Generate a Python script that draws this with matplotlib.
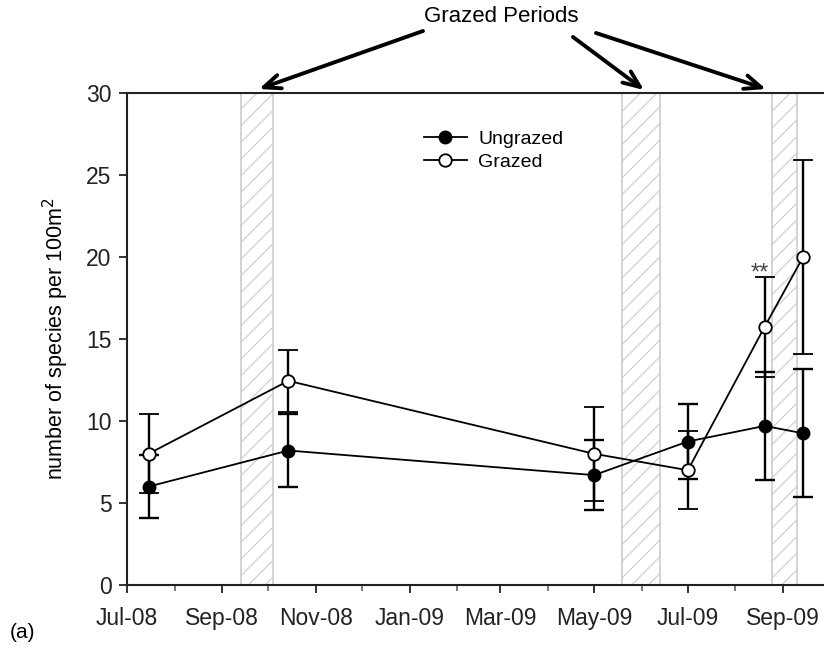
import datetime as dt
import matplotlib
matplotlib.use("Agg")
import matplotlib.pyplot as plt
import matplotlib.dates as mdates
from matplotlib.patches import Rectangle
from matplotlib.lines import Line2D

plt.rcParams['font.family'] = ['Liberation Sans', 'DejaVu Sans']
plt.rcParams['hatch.color'] = '#cccccc'
plt.rcParams['hatch.linewidth'] = 0.8

# sampling dates and species counts
dates = [dt.date(2008, 7, 15), dt.date(2008, 10, 14), dt.date(2009, 5, 1),
         dt.date(2009, 7, 1), dt.date(2009, 8, 20), dt.date(2009, 9, 14)]
ungrazed = [6.0, 8.2, 6.7, 8.75, 9.7, 9.25]
ungrazed_err = [1.9, 2.25, 2.15, 2.3, 3.3, 3.9]
grazed = [8.0, 12.45, 8.0, 7.0, 15.75, 20.0]
grazed_err = [2.4, 1.9, 2.85, 2.38, 3.05, 5.9]

# grazing periods (start, end)
graze_periods = [(dt.date(2008, 9, 13), dt.date(2008, 10, 4)),
                 (dt.date(2009, 5, 19), dt.date(2009, 6, 13)),
                 (dt.date(2009, 8, 25), dt.date(2009, 9, 10))]

fig = plt.figure(figsize=(8.24, 6.53), dpi=100)
ax = fig.add_axes([127 / 824, 1 - 585 / 653, 1 - 127 / 824, (585 - 93) / 653])

for start, end in graze_periods:
    x0 = mdates.date2num(start)
    x1 = mdates.date2num(end)
    ax.add_patch(Rectangle((x0, 0), x1 - x0, 30, facecolor='white',
                           edgecolor='#cccccc', hatch='//', linewidth=1.2, zorder=1))

ax.errorbar(dates, ungrazed, yerr=ungrazed_err, color='black', marker='o',
            markersize=9, markerfacecolor='black', linewidth=1.3, elinewidth=1.7,
            capsize=7, capthick=1.7, zorder=3)
ax.errorbar(dates, grazed, yerr=grazed_err, color='black', marker='o',
            markersize=9, markerfacecolor='white', markeredgewidth=1.3,
            linewidth=1.3, elinewidth=1.7, capsize=7, capthick=1.7, zorder=4)

# significance mark above the August grazed value
ax.text(mdates.date2num(dates[4]) - 3, grazed[4] + grazed_err[4] - 0.45, '**',
        ha='center', va='bottom', fontsize=17, color='#444444')

start = mdates.date2num(dt.date(2008, 7, 1))
ax.set_xlim(start, start + 453.6)
ax.set_ylim(0, 30)

ax.xaxis.set_major_locator(mdates.MonthLocator(bymonth=[1, 3, 5, 7, 9, 11]))
ax.xaxis.set_minor_locator(mdates.MonthLocator())
ax.xaxis.set_major_formatter(mdates.DateFormatter('%b-%y'))
ax.set_yticks(range(0, 31, 5))

ax.tick_params(axis='both', which='major', direction='out', length=6,
               width=1.3, labelsize=16.5, colors='#222222')
ax.tick_params(axis='x', which='minor', direction='out', length=4, width=1.1,
               colors='#555555')
ax.tick_params(axis='x', pad=10)
ax.tick_params(axis='y', pad=5)

ax.spines['right'].set_visible(False)
for side in ['left', 'top', 'bottom']:
    ax.spines[side].set_linewidth(1.5)
    ax.spines[side].set_color('#222222')

ax.set_ylabel('number of species per 100m$^2$', fontsize=15.5)
ax.yaxis.set_label_coords(-0.08, 0.5)

handles = [Line2D([], [], color='black', marker='o', markersize=9,
                  markerfacecolor='black', linewidth=1.3),
           Line2D([], [], color='black', marker='o', markersize=9,
                  markerfacecolor='white', markeredgewidth=1.3, linewidth=1.3)]
ax.legend(handles, ['Ungrazed', 'Grazed'], loc='upper left',
          bbox_to_anchor=(0.425 - 7 / 697, 0.955 - 7 / 492), frameon=False,
          fontsize=14, handlelength=2.2, handletextpad=0.6, labelspacing=0.28,
          borderaxespad=0)

# label and arrows pointing to the grazing periods
fig.text(501 / 824, 1 - 17 / 653, 'Grazed Periods', ha='center', va='center',
         fontsize=16)
arrows = [((423, 31), (259, 89)), ((573, 37), (644, 90)), ((596, 33), (766, 89))]
for tail, head in arrows:
    ax.annotate('', xy=(head[0], 653 - head[1]), xycoords='figure pixels',
                xytext=(tail[0], 653 - tail[1]), textcoords='figure pixels',
                arrowprops=dict(arrowstyle='->,head_length=1.2,head_width=0.5',
                                color='black', linewidth=2.8,
                                shrinkA=0, shrinkB=0),
                annotation_clip=False)

fig.text(10 / 824, 1 - 632 / 653, '(a)', ha='left', va='center', fontsize=15)

fig.savefig('out.png', dpi=100)
